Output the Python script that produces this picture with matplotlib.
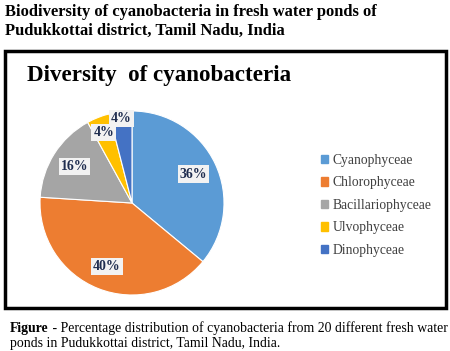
import matplotlib as mpl
mpl.use('Agg')
import matplotlib.pyplot as plt
import matplotlib.patches as mpatches

plt.rcParams['font.family'] = ['Liberation Serif', 'DejaVu Serif']

# data
classes = ['Cyanophyceae', 'Chlorophyceae', 'Bacillariophyceae', 'Ulvophyceae', 'Dinophyceae']
percent = [36, 40, 16, 4, 4]
colors = ['#5B9BD5', '#ED7D31', '#A5A5A5', '#FFC000', '#4472C4']

W, H = 450, 351
fig = plt.figure(figsize=(W / 100, H / 100), dpi=100)

def fx(px):
    return px / W

def fy(py):
    return 1 - py / H

# background axes for texts and frame
bg = fig.add_axes([0, 0, 1, 1])
bg.axis('off')
bg.set_xlim(0, 1)
bg.set_ylim(0, 1)

fig.text(fx(5), fy(12), 'Biodiversity of cyanobacteria in fresh water ponds of',
         fontsize=11.9, fontweight='bold', va='center', ha='left')
fig.text(fx(5), fy(31), 'Pudukkottai district, Tamil Nadu, India',
         fontsize=11.9, fontweight='bold', va='center', ha='left')

# chart frame
frame = mpatches.Rectangle((fx(5), fy(308)), fx(441), (308 - 51) / H,
                           transform=fig.transFigure, fill=False,
                           edgecolor='black', linewidth=2.5)
bg.add_patch(frame)

fig.text(fx(27), fy(75), 'Diversity  of cyanobacteria', fontsize=16.6,
         fontweight='bold', va='center', ha='left')

# pie
cx, cy, r = 132, 203, 92
ax = fig.add_axes([fx(cx - r), fy(cy + r), fx(2 * r), 2 * r / H])
wedges, texts, autotexts = ax.pie(
    percent, colors=colors, startangle=90, counterclock=False,
    autopct='%d%%', pctdistance=0.74,
    wedgeprops=dict(edgecolor='white', linewidth=0.8),
    textprops=dict(fontsize=10, fontweight='bold', color='#1F2D4F'))
ax.set_aspect('equal')
ax.set_xlim(-1, 1)
ax.set_ylim(-1, 1)
for i, t in enumerate(autotexts):
    t.set_bbox(dict(facecolor='#F2F2F2', edgecolor='none', pad=1.5))
    x, y = t.get_position()
    if i == 3:
        t.set_position((x * 1.12, y * 1.12))
    if i == 4:
        t.set_position((x * 1.25, y * 1.25))

handles = [mpatches.Patch(color=c) for c in colors]
fig.legend(handles, classes, loc='upper left',
           bbox_to_anchor=(fx(314), fy(147)), frameon=False,
           fontsize=9.8, handlelength=0.55, handleheight=0.55,
           handletextpad=0.3, labelspacing=0.7, borderpad=0,
           labelcolor='#404040')

# caption
t1 = bg.text(fx(10), fy(332), 'Figure', fontsize=9.9, fontweight='bold',
             va='baseline', ha='left')
bg.annotate(' - Percentage distribution of cyanobacteria from 20 different fresh water',
            xy=(1, 0), xycoords=t1, va='bottom', ha='left', fontsize=9.9)
bg.text(fx(10), fy(347), 'ponds in Pudukkottai district, Tamil Nadu, India.',
        fontsize=9.9, va='baseline', ha='left')

fig.savefig('out.png', dpi=100)
